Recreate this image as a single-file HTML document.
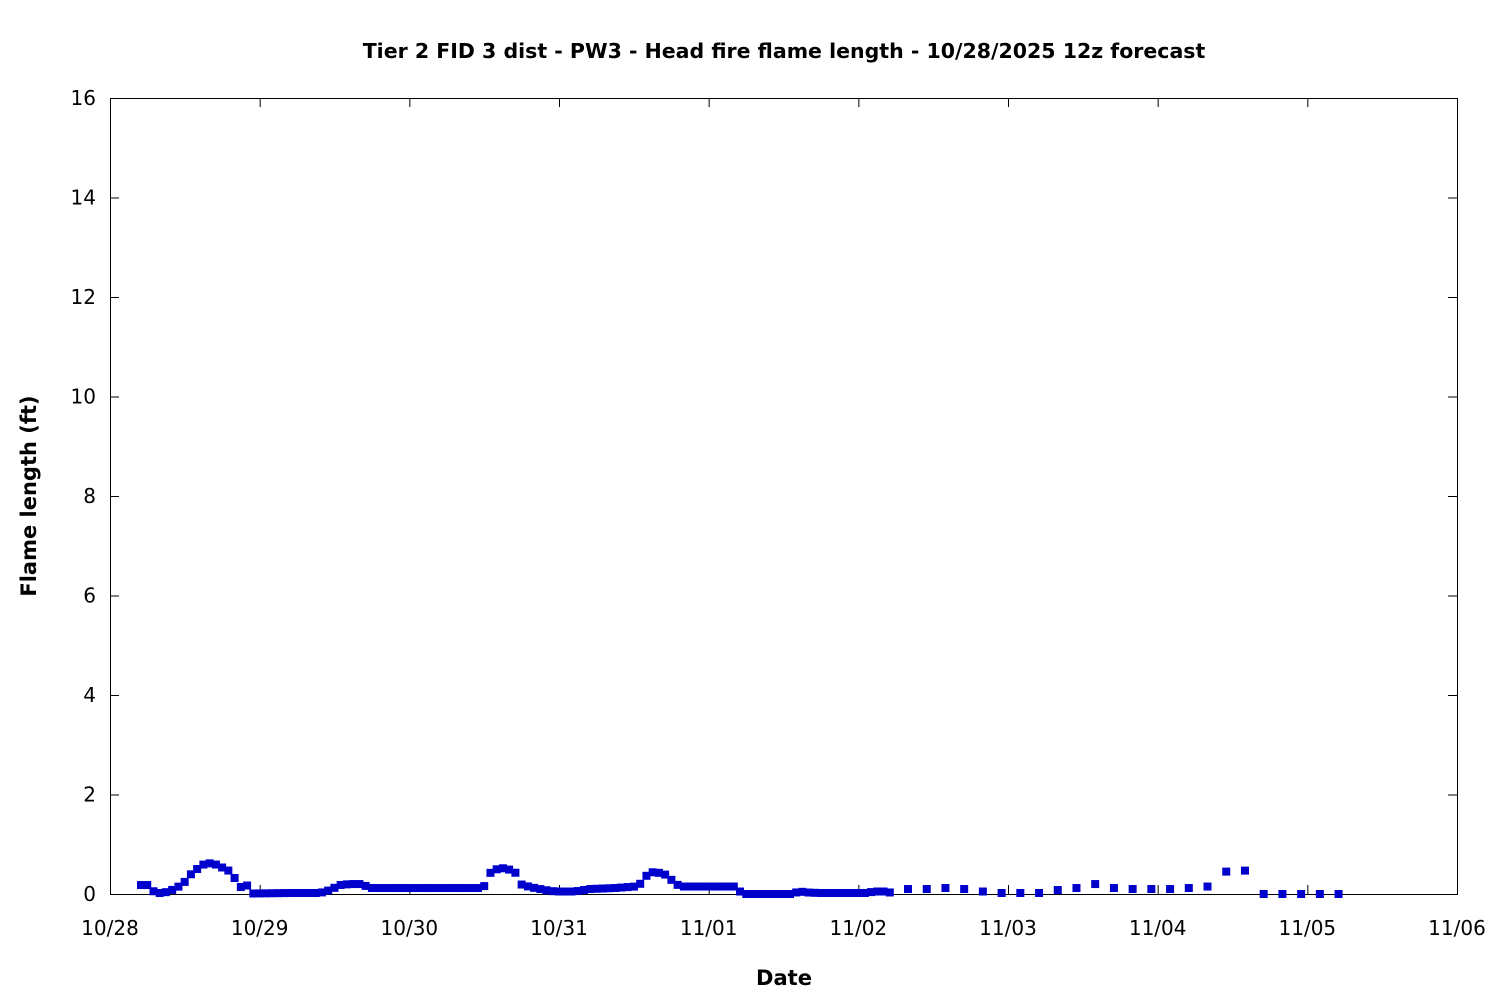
<!DOCTYPE html><html><head><style>body{margin:0;background:#fff}svg{display:block}text{font-family:"DejaVu Sans","Liberation Sans",sans-serif;fill:#000}</style></head><body>
<svg id="s" width="1500" height="1000" xmlns="http://www.w3.org/2000/svg">
<text x="784" y="58" text-anchor="middle" font-size="20.5" font-weight="bold">Tier 2 FID 3 dist - PW3 - Head fire flame length - 10/28/2025 12z forecast</text>
<text x="784" y="985" text-anchor="middle" font-size="21" font-weight="bold">Date</text>
<text transform="translate(36,496) rotate(-90)" text-anchor="middle" font-size="21" font-weight="bold">Flame length (ft)</text>
<g id="ax" stroke="#000" stroke-width="1" fill="none"><rect x="110.5" y="98.5" width="1347" height="796"/></g>
<g id="lb" font-size="20"></g>
<g id="pts" fill="#0000cc"></g>
</svg>
<script>
const ax=document.getElementById('ax'),lb=document.getElementById('lb'),pts=document.getElementById('pts');
const X0=110,X1=1457,Y0=894,Y1=98,NS='http://www.w3.org/2000/svg';
function el(p,t,a,txt){const e=document.createElementNS(NS,t);for(const k in a)e.setAttribute(k,a[k]);if(txt!=null)e.textContent=txt;p.appendChild(e);}
for(let i=0;i<=8;i++){const y=Y0-(Y0-Y1)*i/8;
 el(ax,'line',{x1:X0,y1:y+.5,x2:X0+9,y2:y+.5});el(ax,'line',{x1:X1-9,y1:y+.5,x2:X1,y2:y+.5});
 el(lb,'text',{x:96,y:y+7,'text-anchor':'end'},String(i*2));}
const d=['10/28','10/29','10/30','10/31','11/01','11/02','11/03','11/04','11/05','11/06'];
for(let i=0;i<=9;i++){const x=X0+(X1-X0)*i/9;
 el(ax,'line',{x1:x+.5,y1:Y0,x2:x+.5,y2:Y0-9});el(ax,'line',{x1:x+.5,y1:Y1,x2:x+.5,y2:Y1+9});
 el(lb,'text',{x:x,y:935,'text-anchor':'middle'},d[i]);}
const k=[[141,.18],[148,.18],[155,.02],[162,.02],[169,.05],[176,.12],[183,.2],[190,.38],[197,.5],[204,.6],[211,.62],[218,.58],[225,.5],[232,.44],[239,.12],[246,.2],[253,.01],[290,.02],[320,.02],[330,.08],[340,.18],[350,.2],[360,.2],[372,.12],[480,.12],[484,.15],[490,.42],[497,.5],[504,.52],[511,.48],[516,.42],[520,.2],[530,.14],[545,.08],[555,.05],[575,.05],[590,.1],[615,.12],[635,.15],[640,.2],[647,.38],[654,.45],[660,.42],[667,.38],[673,.25],[680,.15],[735,.15],[740,.05],[745,0],[790,0],[800,.05],[808,.03],[820,.02],[865,.02],[875,.05],[885,.05],[890,.03]];
function f(x){for(let i=1;i<k.length;i++)if(x<=k[i][0]){const a=k[i-1],b=k[i];return a[1]+(b[1]-a[1])*(x-a[0])/(b[0]-a[0]);}return k[k.length-1][1];}
function pt(x,v){const y=Y0-v*(Y0-Y1)/16;el(pts,'rect',{x:x-4,y:y-4,width:8,height:8});}
for(let x=141;x<=891;x+=6.24)pt(x,f(x));
const sp=[.1,.1,.12,.1,.05,.02,.02,.02,.08,.12,.2,.12,.1,.1,.1,.12,.15,.45,.47,0,0,0,0,0];
sp.forEach((v,i)=>pt(908+i*18.72,v));
</script></body></html>
